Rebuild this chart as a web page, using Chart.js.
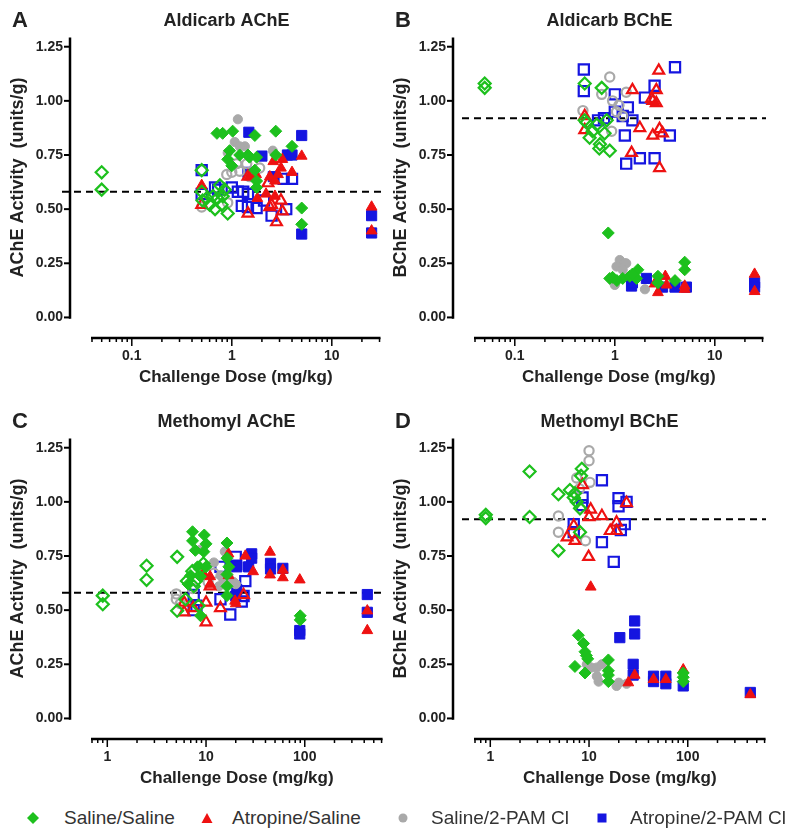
<!DOCTYPE html>
<html lang="en">
<head>
<meta charset="UTF-8">
<title>Aldicarb and Methomyl challenge: AChE / BChE activity</title>
<script src="https://cdn.jsdelivr.net/npm/chart.js"></script>
<style>
  body { margin: 0; background: #fff; }
  #page { position: relative; width: 800px; height: 838px; overflow: hidden; }
  canvas { position: absolute; }
  .key { position: absolute; top: 806px; height: 24px; display: flex; align-items: center;
         font: 19px 'Liberation Sans', Arial, sans-serif; color: #333; white-space: nowrap; }
  .key svg { display: block; }
</style>
</head>
<body>
<div id="page">
  <canvas id="panelA" width="400" height="400" style="left:0;top:0"></canvas>
  <canvas id="panelB" width="400" height="400" style="left:383px;top:0"></canvas>
  <canvas id="panelC" width="400" height="400" style="left:0;top:401px"></canvas>
  <canvas id="panelD" width="400" height="400" style="left:383px;top:401px"></canvas>
  <div id="legend"></div>
</div>

<script>
// treatment groups (dataset order = drawing order, first one ends up on top)
const groupNames  = ['Saline/Saline', 'Atropine/Saline', 'Saline/2-PAM Cl', 'Atropine/2-PAM Cl'];
const groupColors = ['#1dc01d', '#ee1111', '#a9a9a9', '#1515e0'];
const groupShapes = ['rectRot', 'triangle', 'circle', 'rect'];
const groupRadius = [6, 6.2, 4.6, 7.2];

// axis ticks
const yTicks = [0, 0.25, 0.5, 0.75, 1.0, 1.25];
const xLabelsAldicarb = [0.1, 1, 10];
const xLabelsMethomyl = [1, 10, 100];

// control (baseline) activity, units/g
const controlAChE = 0.58;
const controlBChE = 0.92;

// [dose mg/kg, activity units/g]; filled = first set, "Open" = open symbols

// --- A: Aldicarb AChE
const A_salSal = [[0.71,0.85],[0.81,0.85],[1.02,0.86],[0.95,0.77],[0.91,0.73],[1.0,0.70],[1.2,0.75],[1.45,0.75],[1.5,0.74],[1.7,0.84],[1.77,0.74],[1.7,0.68],[1.77,0.63],[1.77,0.60],[2.75,0.86],[2.75,0.75],[4.0,0.79],[5.0,0.505],[5.0,0.43]];
const A_salSalOpen = [[0.05,0.67],[0.05,0.59],[0.5,0.68],[0.5,0.58],[0.51,0.54],[0.56,0.55],[0.6,0.52],[0.65,0.56],[0.68,0.50],[0.72,0.55],[0.76,0.61],[0.79,0.52],[0.81,0.56],[0.91,0.48],[0.85,0.59]];
const A_atrSal = [[0.5,0.61],[1.5,0.65],[1.75,0.66],[2.4,0.65],[2.7,0.63],[2.6,0.72],[3.2,0.73],[3.1,0.69],[2.9,0.66],[2.2,0.57],[1.8,0.55],[2.7,0.56],[4.0,0.67],[5.0,0.745],[25,0.51],[25,0.40]];
const A_atrSalOpen = [[0.5,0.52],[1.45,0.48],[1.45,0.65],[2.3,0.62],[2.4,0.51],[2.5,0.52],[2.8,0.44],[3.1,0.54],[3.2,0.49]];
const A_salPam = [[1.15,0.915],[1.07,0.81],[1.35,0.79],[0.91,0.76],[2.57,0.77],[1.2,0.79]];
const A_salPamOpen = [[0.89,0.66],[1.0,0.67],[1.2,0.675],[1.12,0.71],[1.41,0.71],[1.51,0.65],[1.9,0.69],[0.5,0.51],[0.91,0.53]];
const A_atrPam = [[1.48,0.855],[2.0,0.745],[1.45,0.67],[2.6,0.65],[3.6,0.75],[4.0,0.75],[5.0,0.84],[5.0,0.385],[25,0.47],[25,0.39]];
const A_atrPamOpen = [[0.5,0.68],[0.5,0.57],[0.68,0.60],[0.73,0.59],[1.0,0.60],[1.15,0.58],[1.3,0.58],[1.45,0.57],[1.26,0.515],[1.45,0.51],[1.77,0.505],[2.1,0.54],[2.5,0.47],[3.5,0.50],[4.0,0.64],[3.3,0.64]];

// --- B: Aldicarb BChE
const B_salSal = [[0.86,0.39],[0.89,0.18],[0.95,0.185],[1.2,0.18],[1.41,0.19],[1.65,0.18],[1.7,0.22],[2.7,0.19],[2.7,0.16],[4.0,0.17],[5.0,0.255],[5.0,0.22],[1.5,0.20],[1.05,0.17]];
const B_salSalOpen = [[0.05,1.08],[0.05,1.06],[0.5,1.08],[0.74,1.06],[0.5,0.91],[0.52,0.90],[0.56,0.83],[0.6,0.86],[0.66,0.89],[0.71,0.80],[0.70,0.78],[0.79,0.85],[0.83,0.91],[0.89,0.77]];
const B_atrSal = [[2.5,0.155],[2.7,0.115],[3.2,0.19],[3.3,0.15],[5.0,0.145],[5.0,0.13],[25,0.20],[25,0.12]];
const B_atrSalOpen = [[0.5,0.93],[0.5,0.865],[1.5,1.05],[1.47,0.76],[1.78,0.875],[2.33,1.01],[2.4,1.0],[2.6,0.99],[2.6,1.05],[2.75,1.14],[2.4,0.84],[2.8,0.87],[3.0,0.85],[2.8,0.69]];
const B_salPam = [[1.12,0.265],[1.25,0.25],[1.3,0.25],[1.04,0.235],[1.2,0.22],[2.0,0.13],[1.0,0.15]];
const B_salPamOpen = [[0.89,1.11],[0.74,1.03],[0.95,1.0],[1.3,1.04],[0.48,0.955],[0.93,0.86],[1.04,0.95],[1.2,0.93],[1.1,0.98]];
const B_atrPam = [[1.47,0.145],[1.5,0.16],[2.07,0.18],[3.0,0.14],[4.0,0.14],[5.2,0.14],[25,0.16],[25,0.14]];
const B_atrPamOpen = [[0.49,1.145],[0.49,1.045],[1.0,1.03],[1.0,0.95],[1.35,0.97],[1.26,0.84],[1.2,0.93],[1.5,0.91],[1.3,0.71],[1.78,0.735],[2.5,0.735],[2.0,1.015],[2.5,1.07],[4.0,1.155],[3.55,0.84],[0.68,0.91],[0.78,0.92]];

// --- C: Methomyl AChE
const C_salSal = [[7.3,0.862],[7.3,0.82],[7.8,0.776],[9.6,0.847],[10,0.806],[9.5,0.77],[16.3,0.81],[16.3,0.74],[17,0.70],[16.3,0.665],[16.3,0.61],[16.3,0.567],[6.6,0.62],[7.0,0.66],[8.2,0.70],[8.8,0.474],[8.8,0.655],[10,0.70],[90,0.474],[90,0.455]];
const C_salSalOpen = [[0.9,0.567],[0.9,0.527],[2.5,0.705],[2.5,0.64],[5.1,0.746],[5.1,0.497],[7.26,0.68],[7.5,0.61],[7.9,0.635],[8.8,0.69],[8.4,0.52],[6.2,0.55],[6.4,0.635],[9.4,0.715]];
const C_atrSal = [[9.6,0.663],[11,0.655],[11,0.62],[16.9,0.76],[16.9,0.66],[25,0.75],[30,0.678],[44.5,0.768],[44.5,0.663],[60,0.685],[60,0.65],[89,0.64],[19.7,0.542],[20,0.53],[430,0.497],[430,0.406]];
const C_atrSalOpen = [[11,0.61],[6,0.535],[6,0.49],[7.4,0.51],[10,0.535],[10,0.444],[14,0.51],[24,0.57],[9.3,0.663]];
const C_salPam = [[8.8,0.78],[12,0.72],[14,0.66],[17,0.65],[19,0.63],[15,0.64],[13.5,0.61],[15.5,0.77],[20,0.62]];
const C_salPamOpen = [[5,0.575],[5,0.55],[7.3,0.60],[5.5,0.53],[10.5,0.63],[12,0.67]];
const C_atrPam = [[29,0.76],[29,0.74],[20.5,0.708],[20.5,0.70],[45,0.716],[45,0.69],[60,0.693],[27,0.70],[89,0.406],[89,0.39],[430,0.572],[430,0.49],[20.5,0.595],[20,0.565]];
const C_atrPamOpen = [[14,0.70],[20,0.746],[25,0.634],[23,0.54],[24,0.565],[17.6,0.48],[14,0.55],[7.5,0.57],[7.5,0.50],[8,0.52]];

// --- D: Methomyl BChE
const D_salSal = [[7.8,0.384],[8.8,0.346],[9.1,0.308],[9.4,0.29],[9.7,0.275],[7.2,0.24],[9.1,0.21],[15.7,0.27],[15.7,0.22],[15.7,0.20],[15.7,0.17],[90,0.21],[90,0.19],[90,0.17]];
const D_salSalOpen = [[0.9,0.94],[0.9,0.925],[2.5,1.14],[2.5,0.93],[4.9,1.035],[4.9,0.775],[8.45,1.153],[8.3,1.12],[6.4,1.055],[7.2,1.04],[7.0,1.02],[7.5,1.0],[8.1,0.97],[8.1,0.86]];
const D_atrSal = [[10.4,0.607],[29,0.20],[25,0.165],[45,0.18],[60,0.18],[90,0.225],[430,0.11]];
const D_atrSalOpen = [[8.6,1.078],[10.4,0.965],[10,0.93],[13.5,0.935],[19,0.905],[16.4,0.866],[19,0.866],[24,0.995],[6,0.836],[7.2,0.82],[7,0.89],[9.9,0.746]];
const D_salPam = [[9.5,0.25],[10.5,0.235],[12,0.235],[12,0.195],[13.5,0.25],[20,0.165],[24,0.16],[12.5,0.17],[19,0.15]];
const D_salPamOpen = [[10,1.236],[10,1.19],[7.5,1.11],[10.2,1.09],[8.0,1.06],[4.9,0.935],[4.9,0.86],[9.2,0.82]];
const D_atrPam = [[29,0.45],[29,0.39],[20.5,0.373],[28,0.25],[28,0.20],[45,0.195],[45,0.17],[60,0.195],[60,0.16],[90,0.15],[430,0.12]];
const D_atrPamOpen = [[13.5,1.10],[19.9,1.017],[19.9,0.98],[24,1.0],[23,0.897],[21,0.87],[13.5,0.814],[17.8,0.723],[8.6,1.02],[8.5,0.985],[7,0.897],[7,0.86]];

const FONT = "'Liberation Sans', Arial, sans-serif";
const TEXT = '#222';
Chart.defaults.font.family = FONT;

function makeDatasets(filled, open) {
    const sets = [];
    for (let g = 0; g < 4; g++) {
        const common = {
            pointStyle: groupShapes[g],
            pointRadius: groupRadius[g],
            pointBorderColor: groupColors[g],
            showLine: false,
            clip: false
        };
        sets.push(Object.assign({ label: groupNames[g], data: filled[g],
            pointBackgroundColor: groupColors[g], pointBorderWidth: 1 }, common));
        sets.push(Object.assign({ label: groupNames[g] + ' (open)', data: open[g],
            pointBackgroundColor: 'rgba(255,255,255,0)', pointBorderWidth: 2.2 }, common));
    }
    return sets;
}

// Prism-style axes: detached y and x axis lines, log minor ticks, dashed control line
const prismAxes = {
    id: 'prismAxes',
    beforeDatasetsDraw(chart, args, opts) {
        const { ctx, chartArea, scales } = chart;
        const py = scales.y.getPixelForValue(opts.control);
        ctx.save();
        ctx.strokeStyle = '#000';
        ctx.lineWidth = 2;
        ctx.setLineDash([7, 5]);
        ctx.beginPath();
        ctx.moveTo(chartArea.left - 22 + opts.dashFrom, py);
        ctx.lineTo(chartArea.right, py);
        ctx.stroke();
        ctx.restore();
    },
    afterDraw(chart, args, opts) {
        const { ctx, chartArea, scales } = chart;
        const x = scales.x, y = scales.y;
        const ax = chartArea.left - 22;
        const y0 = y.getPixelForValue(0);
        const bottom = chartArea.bottom;
        ctx.save();
        ctx.strokeStyle = '#000';

        // y axis
        ctx.lineWidth = 2.5;
        ctx.beginPath();
        ctx.moveTo(ax, chartArea.top);
        ctx.lineTo(ax, y0 + 1.2);
        ctx.stroke();
        ctx.lineWidth = 2;
        yTicks.forEach(v => {
            const py = y.getPixelForValue(v);
            ctx.beginPath();
            ctx.moveTo(ax - 6, py);
            ctx.lineTo(ax, py);
            ctx.stroke();
        });

        // x axis with log ticks
        const xa = x.getPixelForValue(opts.xLo);
        const xb = x.getPixelForValue(opts.xHi);
        ctx.lineWidth = 2.5;
        ctx.beginPath();
        ctx.moveTo(xa - 1, bottom);
        ctx.lineTo(xb + 1, bottom);
        ctx.stroke();
        ctx.lineWidth = 1.5;
        const d0 = Math.floor(Math.log10(opts.xLo));
        const d1 = Math.ceil(Math.log10(opts.xHi));
        for (let d = d0; d <= d1; d++) {
            for (let k = 1; k <= 9; k++) {
                const v = k * Math.pow(10, d);
                if (v < opts.xLo * 0.999 || v > opts.xHi * 1.001) continue;
                const px = x.getPixelForValue(v);
                ctx.beginPath();
                ctx.moveTo(px, bottom);
                ctx.lineTo(px, bottom + (k === 1 ? 8 : 4));
                ctx.stroke();
            }
        }

        // texts
        ctx.fillStyle = TEXT;
        ctx.textBaseline = 'middle';
        ctx.font = 'bold 22px ' + FONT;
        ctx.textAlign = 'left';
        ctx.fillText(opts.letter, 12, 21);
        ctx.font = 'bold 18px ' + FONT;
        ctx.textAlign = 'center';
        ctx.fillText(opts.title, (ax + chartArea.right) / 2, 21);
        ctx.font = 'bold 17px ' + FONT;
        ctx.fillText('Challenge Dose (mg/kg)', (xa + xb) / 2, 377);
        ctx.save();
        ctx.translate(18, (chartArea.top + y0) / 2);
        ctx.rotate(-Math.PI / 2);
        ctx.font = 'bold 18px ' + FONT;
        ctx.fillText(opts.yTitle, 0, 0);
        ctx.restore();
        ctx.restore();
    }
};

function makePanel(id, cfg) {
    new Chart(document.getElementById(id), {
        type: 'scatter',
        data: { datasets: makeDatasets(cfg.filled, cfg.open) },
        plugins: [prismAxes],
        options: {
            responsive: false,
            animation: false,
            events: [],
            layout: { padding: { top: 30, right: 17, left: 0, bottom: 0 } },
            plugins: {
                legend: { display: false },
                tooltip: { enabled: false },
                prismAxes: {
                    letter: cfg.letter, title: cfg.title, yTitle: cfg.yTitle,
                    control: cfg.control, dashFrom: cfg.dashFrom,
                    xLo: cfg.xLo, xHi: cfg.xHi
                }
            },
            scales: {
                x: {
                    type: 'logarithmic',
                    min: cfg.xMin, max: cfg.xMax,
                    grid: { display: false, drawTicks: false },
                    border: { display: false },
                    afterBuildTicks: s => { s.ticks = cfg.xLabels.map(v => ({ value: v, major: true })); },
                    afterFit: s => { s.height = 62; },
                    ticks: {
                        autoSkip: false, maxRotation: 0, padding: 10, color: TEXT,
                        font: { size: 14, weight: 'bold' },
                        callback: v => String(v)
                    }
                },
                y: {
                    min: -0.095, max: 1.293,
                    grid: { display: false, drawTicks: false },
                    border: { display: false },
                    afterBuildTicks: s => { s.ticks = yTicks.map(v => ({ value: v })); },
                    afterFit: s => { s.width = 92; },
                    ticks: {
                        padding: 29, color: TEXT,
                        font: { size: 14, weight: 'bold' },
                        callback: v => v.toFixed(2)
                    }
                }
            }
        }
    });
}

makePanel('panelA', {
    letter: 'A', title: 'Aldicarb AChE', yTitle: 'AChE Activity  (units/g)',
    control: controlAChE, dashFrom: -8,
    xMin: 0.04, xMax: 32.5, xLo: 0.04, xHi: 30, xLabels: xLabelsAldicarb,
    filled: [A_salSal, A_atrSal, A_salPam, A_atrPam],
    open: [A_salSalOpen, A_atrSalOpen, A_salPamOpen, A_atrPamOpen]
});
makePanel('panelB', {
    letter: 'B', title: 'Aldicarb BChE', yTitle: 'BChE Activity  (units/g)',
    control: controlBChE, dashFrom: 9,
    xMin: 0.04, xMax: 32.5, xLo: 0.04, xHi: 30, xLabels: xLabelsAldicarb,
    filled: [B_salSal, B_atrSal, B_salPam, B_atrPam],
    open: [B_salSalOpen, B_atrSalOpen, B_salPamOpen, B_atrPamOpen]
});
makePanel('panelC', {
    letter: 'C', title: 'Methomyl AChE', yTitle: 'AChE Activity  (units/g)',
    control: controlAChE, dashFrom: -8,
    xMin: 0.7, xMax: 620, xLo: 0.7, xHi: 600, xLabels: xLabelsMethomyl,
    filled: [C_salSal, C_atrSal, C_salPam, C_atrPam],
    open: [C_salSalOpen, C_atrSalOpen, C_salPamOpen, C_atrPamOpen]
});
makePanel('panelD', {
    letter: 'D', title: 'Methomyl BChE', yTitle: 'BChE Activity  (units/g)',
    control: controlBChE, dashFrom: 9,
    xMin: 0.7, xMax: 620, xLo: 0.7, xHi: 600, xLabels: xLabelsMethomyl,
    filled: [D_salSal, D_atrSal, D_salPam, D_atrPam],
    open: [D_salSalOpen, D_atrSalOpen, D_salPamOpen, D_atrPamOpen]
});

// shared legend below the panels
const keyMarkers = [
    '<polygon points="6,0 12,6 6,12 0,6"/>',
    '<polygon points="6,1 11.5,11 0.5,11"/>',
    '<circle cx="6" cy="6" r="4.5"/>',
    '<rect x="1.5" y="1.5" width="9" height="9"/>'
];
const keyMarkerX = [33, 207, 403, 602];
const keyTextX = [64, 232, 431, 630];
const legendBox = document.getElementById('legend');
groupNames.forEach((name, g) => {
    const item = document.createElement('div');
    item.className = 'key';
    item.style.left = (keyMarkerX[g] - 6) + 'px';
    item.innerHTML = '<svg width="12" height="12" viewBox="0 0 12 12" fill="' + groupColors[g] + '">' +
        keyMarkers[g] + '</svg><span style="margin-left:' + (keyTextX[g] - keyMarkerX[g] - 6) + 'px">' +
        name + '</span>';
    legendBox.appendChild(item);
});
</script>
</body>
</html>
